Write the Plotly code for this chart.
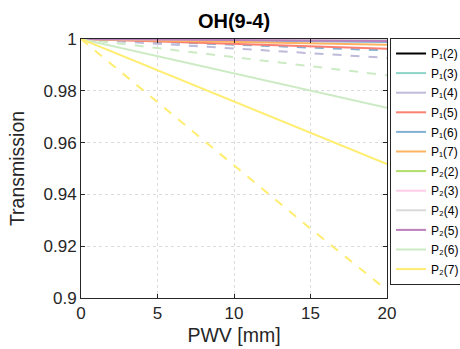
import plotly.graph_objects as go

pwv = [0, 5, 10, 15, 20]

# Solid lines (legend entries)
names = ["P₁(2)", "P₁(3)", "P₁(4)", "P₁(5)",
         "P₁(6)", "P₁(7)", "P₂(2)", "P₂(3)",
         "P₂(4)", "P₂(5)", "P₂(6)", "P₂(7)"]
colors = ["#000000", "#8dd3c7", "#bebada", "#fb8072", "#80b1d3", "#fdb462",
          "#b3de69", "#fccde5", "#d9d9d9", "#bc80bd", "#ccebc5", "#ffed6f"]

solid_vals = [
    [1, 0.99999, 0.99998, 0.99997, 0.99996],
    [1, 0.99998, 0.99996, 0.99994, 0.99992],
    [1, 0.99990, 0.99980, 0.99970, 0.99960],
    [1, 0.99905, 0.99810, 0.99715, 0.99620],
    [1, 0.99970, 0.99940, 0.99910, 0.99880],
    [1, 0.99945, 0.99890, 0.99835, 0.99780],
    [1, 0.99997, 0.99994, 0.99991, 0.99988],
    [1, 0.99990, 0.99980, 0.99970, 0.99960],
    [1, 0.99995, 0.99990, 0.99985, 0.99980],
    [1, 0.99980, 0.99960, 0.99940, 0.99920],
    [1, 0.99335, 0.98670, 0.98005, 0.97340],
    [1, 0.98790, 0.97580, 0.96370, 0.95170],
]

# Dashed lines (not in legend)
dash_colors = ["#d9d9d9", "#80b1d3", "#bebada", "#ccebc5", "#ffed6f"]
dash_vals = [
    [1, 0.99988, 0.99976, 0.99964, 0.99952],
    [1, 0.99890, 0.99780, 0.99670, 0.99560],
    [1, 0.99818, 0.99636, 0.99454, 0.99270],
    [1, 0.99650, 0.99300, 0.98950, 0.98600],
    [1, 0.97550, 0.95100, 0.92680, 0.90300],
]

ytickvals = [0.9, 0.92, 0.94, 0.96, 0.98, 1]
yticktext = ["0.9", "0.92", "0.94", "0.96", "0.98", "1"]
xtickvals = [0, 5, 10, 15, 20]

fig = go.Figure()
for c, v in zip(dash_colors, dash_vals):
    fig.add_trace(go.Scatter(x=pwv, y=v, mode="lines", showlegend=False,
                             line=dict(color=c, width=2, dash="dash")))
for i, (n, c, v) in enumerate(zip(names, colors, solid_vals)):
    fig.add_trace(go.Scatter(x=pwv, y=v, mode="lines", name=n, legendgroup=f"g{i}",
                             line=dict(color=c, width=2)))

axis_common = dict(showline=True, linecolor="#262626", linewidth=1, mirror="ticks",
                   ticks="inside", ticklen=4, tickcolor="#262626",
                   showgrid=True, gridcolor="#dcdcdc", griddash="dot", gridwidth=1,
                   zeroline=False, automargin=False,
                   tickfont=dict(size=17, color="#262626"))

W, H = 460, 349
L, R, T, B = 81, 73, 39, 51
PW, PH = W - L - R, H - T - B

fig.update_layout(
    width=W, height=H,
    margin=dict(l=L, r=R, t=T, b=B, autoexpand=False),
    paper_bgcolor="white", plot_bgcolor="white",
    font=dict(family="Liberation Sans, Arial, sans-serif", color="#262626"),
    title=dict(text="<b>OH(9-4)</b>", x=(L + PW / 2) / W, xanchor="center",
               y=1 - 21 / H, yanchor="middle", font=dict(size=20, color="black")),
    xaxis=dict(range=[0, 20], tickvals=xtickvals,
               title=dict(text="PWV [mm]", font=dict(size=19.5), standoff=5), **axis_common),
    yaxis=dict(range=[0.9, 1], tickvals=ytickvals, ticktext=yticktext,
               title=dict(text="Transmission", font=dict(size=19.5), standoff=13), **axis_common),
    legend=dict(x=1.01, y=(H - B - 38) / PH, xanchor="left", yanchor="top",
                bordercolor="#262626", borderwidth=1, bgcolor="white",
                font=dict(size=12, color="black"), tracegroupgap=0.6,
                itemwidth=30, maxheight=320),
)

fig.write_html("out.html", config={"displayModeBar": False},
               post_script="document.body.style.margin='0';document.body.style.overflow='hidden';")
